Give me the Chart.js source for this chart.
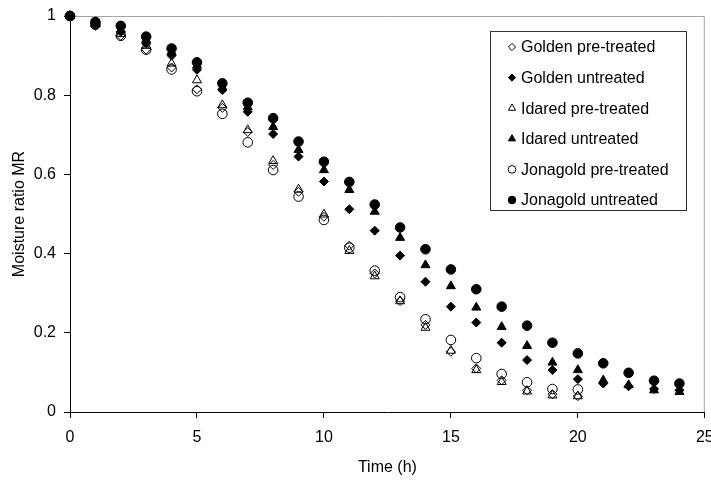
<!DOCTYPE html>
<html>
<head>
<meta charset="utf-8">
<script src="https://cdn.jsdelivr.net/npm/chart.js@4"></script>
<style>
  html, body { margin: 0; padding: 0; background: #fff; }
  #wrap { width: 711px; height: 481px; }
</style>
</head>
<body>
<div id="wrap"><canvas id="myChart"></canvas></div>
<script>
/* drying curves - moisture ratio vs time */
const hours = [0, 1, 2, 3, 4, 5, 6, 7, 8, 9, 10, 11, 12, 13, 14, 15, 16, 17, 18, 19, 20, 21, 22, 23, 24];

const goldenPre = [1, 0.975, 0.95, 0.915, 0.87, 0.815, 0.768, 0.707, 0.624, 0.556, 0.493, 0.42, 0.35, 0.28, 0.22, 0.152, 0.11, 0.08, 0.055, 0.045, 0.04];
const goldenUntr = [1, 0.977, 0.96, 0.93, 0.9, 0.864, 0.813, 0.758, 0.702, 0.645, 0.582, 0.512, 0.458, 0.395, 0.329, 0.266, 0.226, 0.175, 0.131, 0.106, 0.083, 0.072, 0.065, 0.058, 0.055];
const idaredPre = [1, 0.98, 0.955, 0.925, 0.88, 0.838, 0.775, 0.712, 0.634, 0.562, 0.499, 0.407, 0.343, 0.28, 0.213, 0.155, 0.106, 0.076, 0.052, 0.042, 0.04];
const idaredUntr = [1, 0.982, 0.965, 0.94, 0.91, 0.875, 0.82, 0.77, 0.72, 0.662, 0.611, 0.561, 0.506, 0.44, 0.371, 0.318, 0.264, 0.215, 0.167, 0.125, 0.106, 0.08, 0.068, 0.055, 0.051];
const jonaPre = [1, 0.978, 0.95, 0.915, 0.865, 0.81, 0.753, 0.681, 0.611, 0.544, 0.485, 0.415, 0.357, 0.29, 0.234, 0.182, 0.136, 0.096, 0.075, 0.058, 0.057];
const jonaUntr = [1, 0.985, 0.975, 0.948, 0.918, 0.883, 0.83, 0.781, 0.742, 0.683, 0.632, 0.581, 0.524, 0.466, 0.411, 0.36, 0.31, 0.266, 0.218, 0.175, 0.148, 0.123, 0.099, 0.079, 0.072];

const seriesNames = ['Golden pre-treated', 'Golden untreated', 'Idared pre-treated', 'Idared untreated', 'Jonagold pre-treated', 'Jonagold untreated'];

Chart.defaults.font.family = '"Liberation Sans", Arial, sans-serif';
Chart.defaults.font.size = 16;
Chart.defaults.color = '#000';

function toPoints(vals) {
  return vals.map((v, i) => ({ x: hours[i], y: v }));
}

function makeSet(label, vals, style, filled, radius) {
  return {
    label: label,
    data: toPoints(vals),
    pointStyle: style,
    pointRadius: radius,
    pointHoverRadius: radius,
    pointBorderWidth: 1,
    pointBorderColor: '#000',
    pointBackgroundColor: filled ? '#000' : 'rgba(0,0,0,0)',
    showLine: false,
    clip: false
  };
}

const data = {
  datasets: [
    makeSet(seriesNames[0], goldenPre, 'rectRot', false, 4.5),
    makeSet(seriesNames[1], goldenUntr, 'rectRot', true, 4.5),
    makeSet(seriesNames[2], idaredPre, 'triangle', false, 5.2),
    makeSet(seriesNames[3], idaredUntr, 'triangle', true, 5.2),
    makeSet(seriesNames[4], jonaPre, 'circle', false, 4.8),
    makeSet(seriesNames[5], jonaUntr, 'circle', true, 4.8)
  ]
};

// gray frame on top and right of plot area
const frame = {
  id: 'frame',
  beforeDatasetsDraw(chart) {
    const { ctx, chartArea: a } = chart;
    ctx.save();
    ctx.strokeStyle = '#a6a6a6';
    ctx.lineWidth = 1;
    ctx.beginPath();
    ctx.moveTo(a.left, a.top + 0.5);
    ctx.lineTo(a.right - 0.5, a.top + 0.5);
    ctx.lineTo(a.right - 0.5, a.bottom);
    ctx.stroke();
    ctx.restore();
  }
};

// boxed legend inside plot area
const boxLegend = {
  id: 'boxLegend',
  afterDraw(chart) {
    const ctx = chart.ctx;
    ctx.save();
    ctx.strokeStyle = '#333';
    ctx.lineWidth = 1;
    ctx.fillStyle = '#fff';
    ctx.fillRect(490.5, 31.5, 196, 179);
    ctx.strokeRect(490.5, 31.5, 196, 179);
    ctx.font = '16px "Liberation Sans", Arial, sans-serif';
    ctx.textBaseline = 'middle';
    chart.data.datasets.forEach((ds, i) => {
      const y = 47 + i * 30.6;
      ctx.fillStyle = ds.pointBackgroundColor;
      ctx.strokeStyle = '#000';
      Chart.helpers.drawPoint(ctx, { pointStyle: ds.pointStyle, radius: ds.pointRadius * 0.8, rotation: 0, borderWidth: 1 }, 512, y);
      ctx.fillStyle = '#000';
      ctx.fillText(ds.label, 521, y + 1);
    });
    ctx.restore();
  }
};

const config = {
  type: 'scatter',
  data: data,
  options: {
    responsive: true,
    maintainAspectRatio: false,
    animation: false,
    layout: { padding: { left: 0, right: 2, top: 16, bottom: 0 } },
    plugins: {
      legend: { display: false },
      tooltip: { enabled: false }
    },
    scales: {
      x: {
        type: 'linear',
        min: 0,
        max: 25,
        ticks: { stepSize: 5, padding: 10, color: '#000' },
        grid: { display: true, drawOnChartArea: false, drawTicks: true, tickLength: 6, color: '#000' },
        border: { display: true, color: '#000', width: 1 },
        title: { display: true, text: 'Time (h)', color: '#000', padding: { top: 4, bottom: 4 } },
        afterFit(scale) {
          scale.height = 69;
          scale.paddingLeft = 0;
          scale.paddingRight = 0;
        }
      },
      y: {
        type: 'linear',
        min: 0,
        max: 1,
        ticks: {
          stepSize: 0.2,
          padding: 8,
          color: '#000',
          callback: v => String(Number(v.toFixed(1)))
        },
        grid: { display: true, drawOnChartArea: false, drawTicks: true, tickLength: 6, color: '#000' },
        border: { display: true, color: '#000', width: 1 },
        title: { display: true, text: 'Moisture ratio MR', color: '#000', padding: { top: 10, bottom: 4 } },
        afterFit(scale) {
          scale.width = 70;
          scale.paddingTop = 0;
          scale.paddingBottom = 0;
        }
      }
    }
  },
  plugins: [frame, boxLegend]
};

const myChart = new Chart(document.getElementById('myChart'), config);
</script>
</body>
</html>
